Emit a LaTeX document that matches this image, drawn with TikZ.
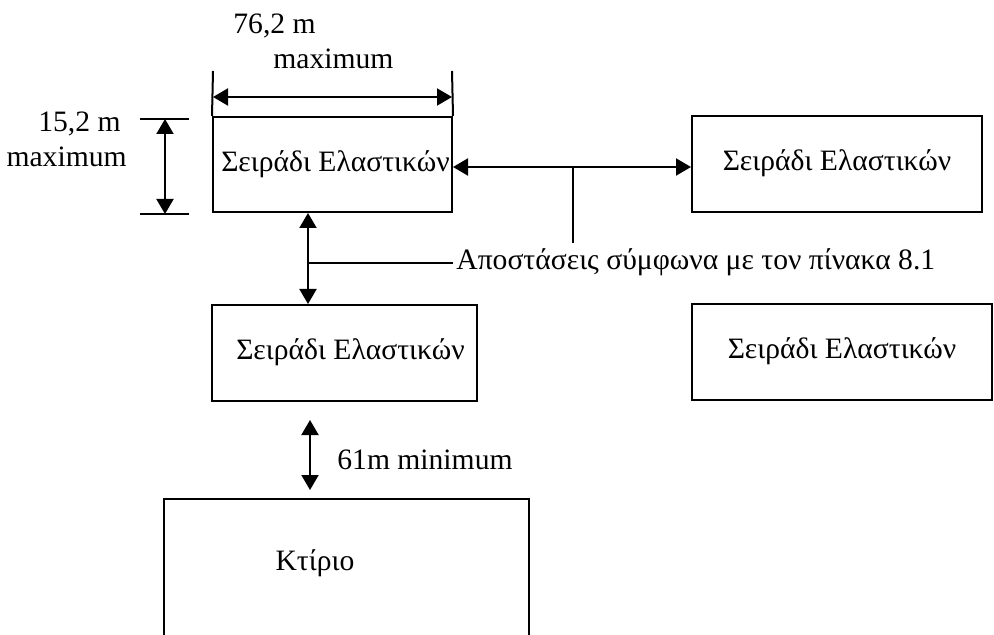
\documentclass[tikz,border=0pt]{standalone}
\usepackage{fontspec}
\setmainfont{Liberation Serif}
\usetikzlibrary{arrows.meta}
\begin{document}
\begin{tikzpicture}[x=0.5pt,y=-0.5pt,
  txt/.style={font=\fontsize{14.8}{17}\selectfont, text height=10pt, text depth=3pt},
  box/.style={draw, line width=1pt, inner sep=0pt, txt},
  lbl/.style={inner sep=0pt, txt},
  conn/.style={line width=1pt},
  dim/.style={line width=1pt, {Triangle[length=7.5pt,width=8.5pt]}-{Triangle[length=7.5pt,width=8.5pt]}}]
\useasboundingbox (0,0) rectangle (994,635);
% boxes
\node[box, minimum width=119.5pt, minimum height=47.5pt] (A) at (332.5,164.5) {\hspace{3pt}Σειράδι Ελαστικών};
\node[box, minimum width=145pt, minimum height=48pt] (B) at (837,164) {Σειράδι Ελαστικών};
\node[box, minimum width=132.5pt, minimum height=48pt] (C) at (344.5,353) {\hspace{6pt}Σειράδι Ελαστικών};
\node[box, minimum width=150pt, minimum height=48pt] (E) at (842,352) {Σειράδι Ελαστικών};
\node[box, minimum width=182.5pt, minimum height=80.5pt] (D) at (346.5,579.5) {};
\node[lbl] (Dt) at (315,563) {Κτίριο};
% top dimension
\coordinate (tl) at (213,71);
\coordinate (tr) at (452,71);
\coordinate (al) at (213,97);
\coordinate (ar) at (452,97);
\draw[conn] (A.north west) -- (tl);
\draw[conn] (A.north east) -- (tr);
\draw[dim] (al) -- (ar);
\node[lbl, anchor=west] (w1) at (233,27) {76,2 m};
\node[lbl, anchor=west] (w2) at (273,62) {maximum};
% left dimension
\coordinate (h1a) at (140,119);
\coordinate (h1b) at (189,119);
\coordinate (h2a) at (140,214);
\coordinate (h2b) at (189,214);
\coordinate (v1) at (165,119);
\coordinate (v2) at (165,214);
\draw[conn] (h1a) -- (h1b);
\draw[conn] (h2a) -- (h2b);
\draw[dim] (v1) -- (v2);
\node[lbl, anchor=east] (l1) at (121,125) {15,2 m};
\node[lbl, anchor=east] (l2) at (127,160) {maximum};
% distances
\draw[dim] ([yshift=-1.25pt]A.east) -- ([yshift=-1.5pt]B.west);
\coordinate (s1) at (573,167);
\coordinate (s2) at (573,243);
\draw[conn] (s1) -- (s2);
\draw[dim] ([xshift=48pt]A.south west) -- ([xshift=48.5pt]C.north west);
\coordinate (j1) at (309,263);
\node[lbl, anchor=west] (dist) at (456,263) {Αποστάσεις σύμφωνα με τον πίνακα 8.1};
\draw[conn] (j1) -- ([xshift=-1.5pt]dist.west);
% 61 m
\coordinate (m1) at (310,420);
\coordinate (m2) at (310,490);
\draw[dim] (m1) -- (m2);
\node[lbl, anchor=west] (mlab) at (337,462) {61m minimum};
\end{tikzpicture}
\end{document}
